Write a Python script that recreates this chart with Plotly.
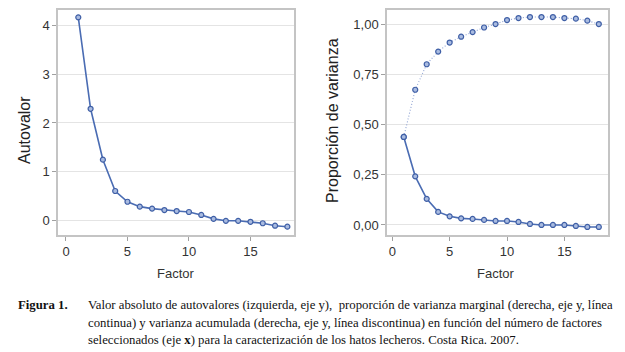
import plotly.graph_objects as go

factors = list(range(1, 19))
autovalor = [4.16, 2.29, 1.25, 0.61, 0.39, 0.29, 0.25, 0.22, 0.20, 0.18, 0.12, 0.04, 0.0, 0.0, -0.02, -0.05, -0.10, -0.12]
var_marginal = [0.438, 0.242, 0.13, 0.065, 0.043, 0.033, 0.03, 0.025, 0.02, 0.02, 0.015, 0.005, 0.0, 0.0, 0.0, -0.005, -0.01, -0.01]
var_acumulada = [0.438, 0.673, 0.80, 0.863, 0.908, 0.937, 0.96, 0.983, 1.0, 1.02, 1.03, 1.035, 1.035, 1.035, 1.03, 1.027, 1.017, 1.0]

left_yticks = [0, 1, 2, 3, 4]
right_yticks = [0, 0.25, 0.5, 0.75, 1.0]
right_ylabels = ["0,00", "0,25", "0,50", "0,75", "1,00"]
xticks = [0, 5, 10, 15]

caption_lines = [
    "Valor absoluto de autovalores (izquierda, eje y),  proporción de varianza marginal (derecha, eje y, línea",
    "continua) y varianza acumulada (derecha, eje y, línea discontinua) en función del número de factores",
    "seleccionados (eje <b>x</b>) para la caracterización de los hatos lecheros. Costa Rica. 2007.",
]

OFF = 8  # page body margin
W, H = 625 - OFF, 352 - OFF
LINE = "#4a6cb3"
MFILL = "#a9bbe0"
MEDGE = "#3f5fa6"

def px_x(p):
    return (p - OFF) / W

def px_y(p):
    return 1 - (p - OFF) / H

marker = dict(symbol="circle", size=5, color=MFILL, line=dict(color=MEDGE, width=1.2))

fig = go.Figure()
fig.add_trace(go.Scatter(x=factors, y=autovalor, mode="lines+markers",
                         line=dict(color=LINE, width=1.6), marker=marker,
                         xaxis="x", yaxis="y", showlegend=False))
fig.add_trace(go.Scatter(x=factors, y=var_acumulada, mode="lines+markers",
                         line=dict(color="#8ea2d2", width=1.1, dash="1px,2px"), marker=marker,
                         xaxis="x2", yaxis="y2", showlegend=False))
fig.add_trace(go.Scatter(x=factors, y=var_marginal, mode="lines+markers",
                         line=dict(color=LINE, width=1.6), marker=marker,
                         xaxis="x2", yaxis="y2", showlegend=False))

axis_common = dict(showline=True, mirror=True, linecolor="#c4c4c4", linewidth=1.5,
                   ticks="outside", ticklen=4, tickcolor="#a0a0a0", tickwidth=1,
                   tickfont=dict(family="Liberation Sans, Arial", size=13, color="#333333"),
                   zeroline=False)

ydom = [px_y(235), px_y(10)]
fig.update_layout(
    width=W, height=H,
    margin=dict(l=0, r=0, t=0, b=0),
    paper_bgcolor="white", plot_bgcolor="white",
    xaxis=dict(domain=[px_x(58), px_x(294)], range=[-0.65, 18.54], tickvals=xticks,
               showgrid=False, anchor="y", **axis_common),
    yaxis=dict(domain=ydom, range=[-0.29, 4.31], tickvals=left_yticks,
               showgrid=True, gridcolor="#e4e4e4", gridwidth=1, anchor="x", **axis_common),
    xaxis2=dict(domain=[px_x(387), px_x(608)], range=[-0.46, 18.8], tickvals=xticks,
                showgrid=False, anchor="y2", **axis_common),
    yaxis2=dict(domain=ydom, range=[-0.05, 1.07], tickvals=right_yticks, ticktext=right_ylabels,
                showgrid=True, gridcolor="#e4e4e4", gridwidth=1, anchor="x2", **axis_common),
)

title_font = dict(family="Liberation Sans, Arial", size=16, color="#222222")
small_font = dict(family="Liberation Sans, Arial", size=13, color="#333333")
annots = [
    dict(text="Autovalor", x=px_x(25), y=px_y(130), textangle=-90, font=title_font),
    dict(text="Proporción de varianza", x=px_x(333), y=px_y(121), textangle=-90, font=title_font),
    dict(text="Factor", x=px_x(176), y=px_y(273), font=small_font),
    dict(text="Factor", x=px_x(496), y=px_y(273), font=small_font),
]
for a in annots:
    a.update(xref="paper", yref="paper", showarrow=False, xanchor="center", yanchor="middle")
fig.update_layout(annotations=annots)

cap_font = dict(family="Liberation Serif, Times New Roman", size=12.75, color="#111111")
fig.add_annotation(text="<b>Figura 1.</b>", x=px_x(16), y=px_y(305), xref="paper", yref="paper",
                   showarrow=False, xanchor="left", yanchor="middle", font=cap_font)
for i, line in enumerate(caption_lines):
    fig.add_annotation(text=line, x=px_x(86), y=px_y(305 + 17.5 * i), xref="paper", yref="paper",
                       showarrow=False, xanchor="left", yanchor="middle", font=cap_font)

fig.write_html("out.html")
